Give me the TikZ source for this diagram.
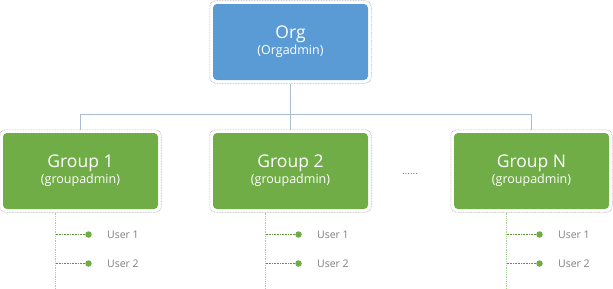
\documentclass[tikz,border=0pt]{standalone}
\usepackage{fontspec}
\setmainfont{Open Sans}
\usetikzlibrary{fit,positioning}

\definecolor{orgblue}{HTML}{5B9BD5}
\definecolor{grpgreen}{HTML}{70AD47}
\definecolor{linkgray}{HTML}{A9BDD1}
\definecolor{stemgreen}{HTML}{A9D18E}
\definecolor{usergray}{HTML}{7F7F7F}

\newcommand{\boxtext}[2]{{\fontsize{17.5}{18}\selectfont #1}\\[1pt]{\fontsize{12.5}{14}\selectfont (#2)}}

\begin{document}
\begin{tikzpicture}[x=1pt,y=-1pt,
	box/.style={rounded corners=4pt,minimum width=155pt,minimum height=76pt,inner sep=0,align=center,text=white},
	halo/.style={draw=black!30,dash pattern=on 0.8pt off 0.8pt,line width=0.6pt,rounded corners=6pt,inner sep=3pt},
	link/.style={draw=linkgray,line width=0.8pt},
	stem/.style={draw=stemgreen,dash pattern=on 1pt off 0.8pt,line width=1pt},
	twig/.style={draw=grpgreen!85!black,dash pattern=on 0.8pt off 0.8pt,line width=0.6pt},
	dot/.style={circle,fill=grpgreen,inner sep=0,minimum size=6.5pt},
	user/.style={text=usergray,font=\fontsize{10.5}{12}\selectfont,inner sep=0,anchor=west}]
	\useasboundingbox (0,0) rectangle (613,289);
	\node[box,fill=orgblue] (org) at (290.5,42) {\boxtext{Org}{Orgadmin}};
	\node[box,fill=grpgreen] (g1) at (80.5,171) {\boxtext{Group 1}{groupadmin}};
	\node[box,fill=grpgreen] (g2) at (290.5,171) {\boxtext{Group 2}{groupadmin}};
	\node[box,fill=grpgreen] (gN) at (531.5,171) {\boxtext{Group N}{groupadmin}};
	\node[halo,fit=(org)] (org-halo) {};
	\foreach \g in {g1,g2,gN}
		\node[halo,fit=(\g)] (\g-halo) {};
	\node[text=usergray,font=\fontsize{10}{10}\selectfont,inner sep=0] (more) at (410,174) {......};
	\coordinate (bus) at ([yshift=-31pt]org-halo.south);
	\draw[link] (org-halo) -- (g2-halo);
	\draw[link] (g1-halo.north) |- (bus) -| (gN-halo.north);
	\foreach \g in {g1,g2,gN}{
		\coordinate (\g-stem) at ([xshift=-25pt]\g-halo.south);
		\draw[stem] (\g-stem) -- ++(0,76);
		\foreach \u/\dy in {1/22,2/51}{
			\coordinate (\g-row\u) at ([yshift=-\dy pt]\g-stem);
			\node[dot] (\g-dot\u) at ([xshift=33pt]\g-row\u) {};
			\node[user,right=15pt of \g-dot\u] (\g-user\u) {User \u};
			\draw[twig] (\g-row\u) -- (\g-dot\u);
		}
	}
\end{tikzpicture}
\end{document}
